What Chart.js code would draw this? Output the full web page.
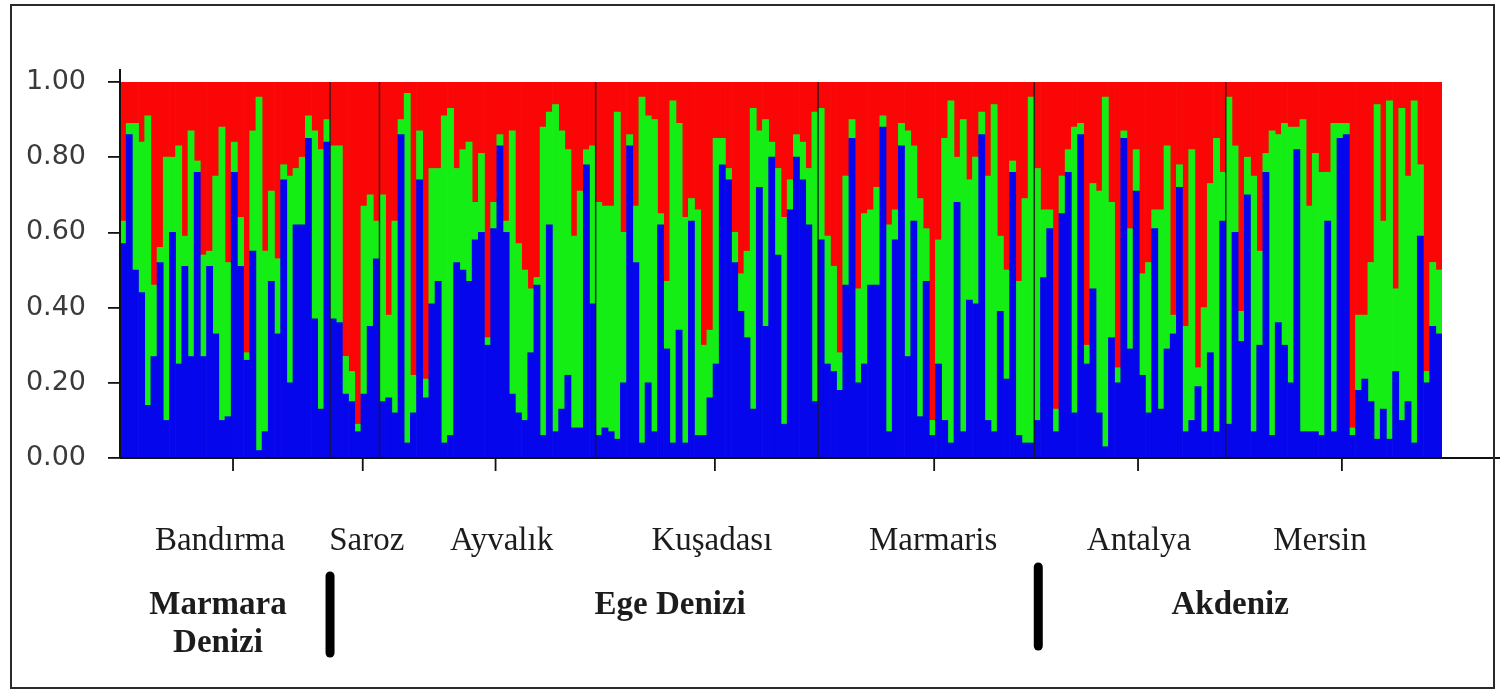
<!DOCTYPE html>
<html>
<head>
<meta charset="utf-8">
<script src="https://cdn.jsdelivr.net/npm/chart.js@4.4.1/dist/chart.umd.min.js"></script>
<style>
  html, body { margin: 0; padding: 0; background: #fff; }
  #wrap { position: relative; width: 1504px; height: 693px; }
  #frame { position: absolute; left: 10px; top: 4px; width: 1481px; height: 681px;
           border: 2px solid #2a2a2a; pointer-events: none; }
</style>
</head>
<body>
<div id="wrap">
  <canvas id="c" width="1504" height="693"></canvas>
  <div id="frame"></div>
</div>
<script>
// Membership proportions (K = 3) per individual, ordered by sampling site.
// Blue = cluster 1, green = cluster 2; red holds the remaining share.
const populations = ['Bandırma', 'Saroz', 'Ayvalık', 'Kuşadası', 'Marmaris', 'Antalya', 'Mersin'];

const bandirmaBlue  = [.57,.86,.50,.44,.14,.27,.52,.10,.60,.25,.51,.27,.76,.27,.51,.33,.10,.11,.76,.51,.26,.55,.02,.07,.47,.33,.74,.20,.62,.62,.85,.37,.13,.84];
const bandirmaGreen = [.06,.03,.39,.40,.77,.19,.04,.70,.20,.58,.08,.60,.03,.27,.04,.42,.78,.41,.08,.13,.02,.32,.94,.48,.24,.20,.04,.55,.15,.18,.06,.50,.69,.06];

const sarozBlue  = [.37,.36,.17,.15,.07,.17,.35,.53];
const sarozGreen = [.46,.47,.10,.08,.02,.50,.35,.10];

const ayvalikBlue  = [.15,.16,.12,.86,.04,.12,.74,.16,.41,.47,.04,.06,.52,.50,.47,.58,.60,.30,.61,.83,.60,.17,.12,.10,.28,.46,.06,.62,.07,.13,.22,.08,.08,.78,.41];
const ayvalikGreen = [.55,.22,.51,.04,.93,.10,.13,.05,.36,.30,.87,.87,.25,.32,.37,.10,.21,.02,.07,.03,.03,.70,.45,.40,.17,.02,.82,.30,.87,.74,.60,.51,.63,.04,.42];

const kusadasiBlue  = [.06,.08,.07,.05,.20,.83,.52,.04,.20,.07,.62,.29,.04,.34,.04,.63,.06,.06,.16,.25,.78,.74,.52,.39,.32,.13,.72,.35,.80,.54,.09,.66,.80,.74,.62,.15];
const kusadasiGreen = [.62,.59,.60,.87,.40,.03,.15,.92,.71,.83,.03,.18,.91,.55,.60,.06,.60,.24,.18,.60,.07,.03,.08,.10,.23,.80,.15,.55,.04,.23,.55,.08,.06,.10,.15,.77];

const marmarisBlue  = [.58,.25,.23,.18,.46,.85,.20,.25,.46,.46,.88,.07,.58,.83,.27,.63,.11,.47,.06,.25,.10,.04,.68,.07,.42,.41,.86,.10,.07,.39,.21,.76,.06,.04,.04];
const marmarisGreen = [.35,.34,.28,.10,.29,.05,.25,.40,.20,.26,.03,.55,.08,.06,.60,.20,.58,.14,.04,.33,.75,.91,.12,.83,.32,.39,.06,.65,.87,.20,.29,.03,.41,.65,.92];

const antalyaBlue  = [.10,.48,.61,.07,.65,.76,.12,.86,.25,.45,.12,.03,.32,.20,.85,.29,.71,.22,.12,.61,.13,.29,.33,.72,.07,.10,.19,.07,.28,.07,.63];
const antalyaGreen = [.67,.18,.05,.06,.10,.06,.76,.03,.05,.28,.59,.93,.36,.04,.02,.32,.11,.27,.40,.05,.53,.54,.05,.06,.28,.72,.05,.33,.45,.78,.13];

const mersinBlue  = [.09,.60,.31,.70,.07,.30,.76,.06,.36,.30,.20,.82,.07,.07,.07,.06,.63,.07,.85,.86,.06,.18,.21,.15,.05,.13,.05,.23,.10,.15,.04,.59,.20,.35,.33];
const mersinGreen = [.87,.23,.08,.10,.68,.25,.05,.81,.50,.59,.68,.06,.83,.60,.74,.70,.13,.82,.04,.03,.02,.20,.17,.37,.89,.50,.90,.22,.83,.60,.91,.19,.03,.17,.17];

const yTicks = [0, 0.2, 0.4, 0.6, 0.8, 1.0];

// Sea regions and the sites (by index) that belong to them.
const regionNames = [['Marmara', 'Denizi'], ['Ege Denizi'], ['Akdeniz']];
const regionSites = [[0, 0], [1, 4], [5, 6]];

const blueBySite  = [bandirmaBlue, sarozBlue, ayvalikBlue, kusadasiBlue, marmarisBlue, antalyaBlue, mersinBlue];
const greenBySite = [bandirmaGreen, sarozGreen, ayvalikGreen, kusadasiGreen, marmarisGreen, antalyaGreen, mersinGreen];

// Flatten into one row of individuals and remember where each site starts.
const labels = [], blue = [], green = [], red = [], siteStart = [];
blueBySite.forEach((b, s) => {
  siteStart.push(labels.length);
  b.forEach((v, k) => {
    labels.push(populations[s] + ' ' + (k + 1));
    blue.push(v);
    green.push(greenBySite[s][k]);
    red.push(+(1 - v - greenBySite[s][k]).toFixed(2));
  });
});
siteStart.push(labels.length);
const total = labels.length;

// Small offsets for the text under the plot (pixels, relative to the site centre).
const siteLabelShift = [-5, 12, 14, 5, 7, 9, -14];
const regionLabelShift = [-7, -12, -8];
const siteTickShift = 8;

const decor = {
  id: 'decor',
  afterDatasetsDraw(chart) {
    const { ctx, chartArea: a, scales: { x } } = chart;
    const edge = i => i <= 0 ? a.left : i >= total ? a.right
      : (x.getPixelForValue(i - 1) + x.getPixelForValue(i)) / 2;
    const line = (x1, y1, x2, y2) => { ctx.beginPath(); ctx.moveTo(x1, y1); ctx.lineTo(x2, y2); ctx.stroke(); };
    ctx.save();

    // site separators inside the plot
    ctx.strokeStyle = 'rgba(25,25,25,0.85)';
    ctx.lineWidth = 1.5;
    for (let s = 1; s < populations.length; s++) {
      const px = edge(siteStart[s]);
      line(px, a.top, px, a.bottom);
    }

    // axes
    ctx.strokeStyle = '#111';
    ctx.lineWidth = 2;
    line(a.left, a.top - 13, a.left, a.bottom);
    line(a.left, a.bottom, chart.width - 4, a.bottom);

    // one tick per site + site names
    ctx.lineWidth = 1.8;
    ctx.fillStyle = '#1c1c1c';
    ctx.textAlign = 'center';
    ctx.textBaseline = 'middle';
    ctx.font = '33px "Liberation Serif", "Times New Roman", serif';
    populations.forEach((p, s) => {
      const cx = (edge(siteStart[s]) + edge(siteStart[s + 1])) / 2;
      line(cx + siteTickShift, a.bottom, cx + siteTickShift, a.bottom + 13);
      ctx.fillText(p, cx + siteLabelShift[s], a.bottom + 83);
    });

    // sea regions
    ctx.font = 'bold 33px "Liberation Serif", "Times New Roman", serif';
    regionNames.forEach((lines, r) => {
      const [s0, s1] = regionSites[r];
      const cx = (edge(siteStart[s0]) + edge(siteStart[s1 + 1])) / 2 + regionLabelShift[r];
      lines.forEach((t, j) => ctx.fillText(t, cx, a.bottom + 147 + j * 38));
    });

    // thick markers between regions
    ctx.strokeStyle = '#000';
    ctx.lineWidth = 9;
    ctx.lineCap = 'round';
    let px = edge(siteStart[1]);
    line(px, a.bottom + 118, px, a.bottom + 195);
    px = edge(siteStart[5]) + 4;
    line(px, a.bottom + 109, px, a.bottom + 188);

    ctx.restore();
  }
};

const barStyle = { barPercentage: 1, categoryPercentage: 1, borderWidth: 0, stack: 'q' };

new Chart(document.getElementById('c'), {
  type: 'bar',
  data: {
    labels,
    datasets: [
      { label: 'Küme 1', data: blue,  backgroundColor: '#0606ec', ...barStyle },
      { label: 'Küme 2', data: green, backgroundColor: '#14ee14', ...barStyle },
      { label: 'Küme 3', data: red,   backgroundColor: '#fb0606', ...barStyle }
    ]
  },
  options: {
    responsive: false,
    devicePixelRatio: 1,
    animation: false,
    layout: { padding: { left: 0, right: 62, top: 82, bottom: 0 } },
    plugins: { legend: { display: false }, tooltip: { enabled: false } },
    scales: {
      x: {
        stacked: true,
        ticks: { display: false },
        grid: { display: false },
        border: { display: false },
        afterFit: s => { s.height = 235; }
      },
      y: {
        stacked: true,
        min: 0,
        max: 1,
        afterBuildTicks: s => { s.ticks = yTicks.map(v => ({ value: v })); },
        ticks: {
          callback: v => Number(v).toFixed(2),
          font: { family: '"DejaVu Sans", sans-serif', size: 27 },
          color: '#3a3a3a',
          padding: 22
        },
        grid: { drawOnChartArea: false, drawTicks: true, tickLength: 12, color: '#111', lineWidth: 1.8 },
        border: { display: false },
        afterFit: s => { s.width = 120; }
      }
    }
  },
  plugins: [decor]
});
</script>
</body>
</html>
